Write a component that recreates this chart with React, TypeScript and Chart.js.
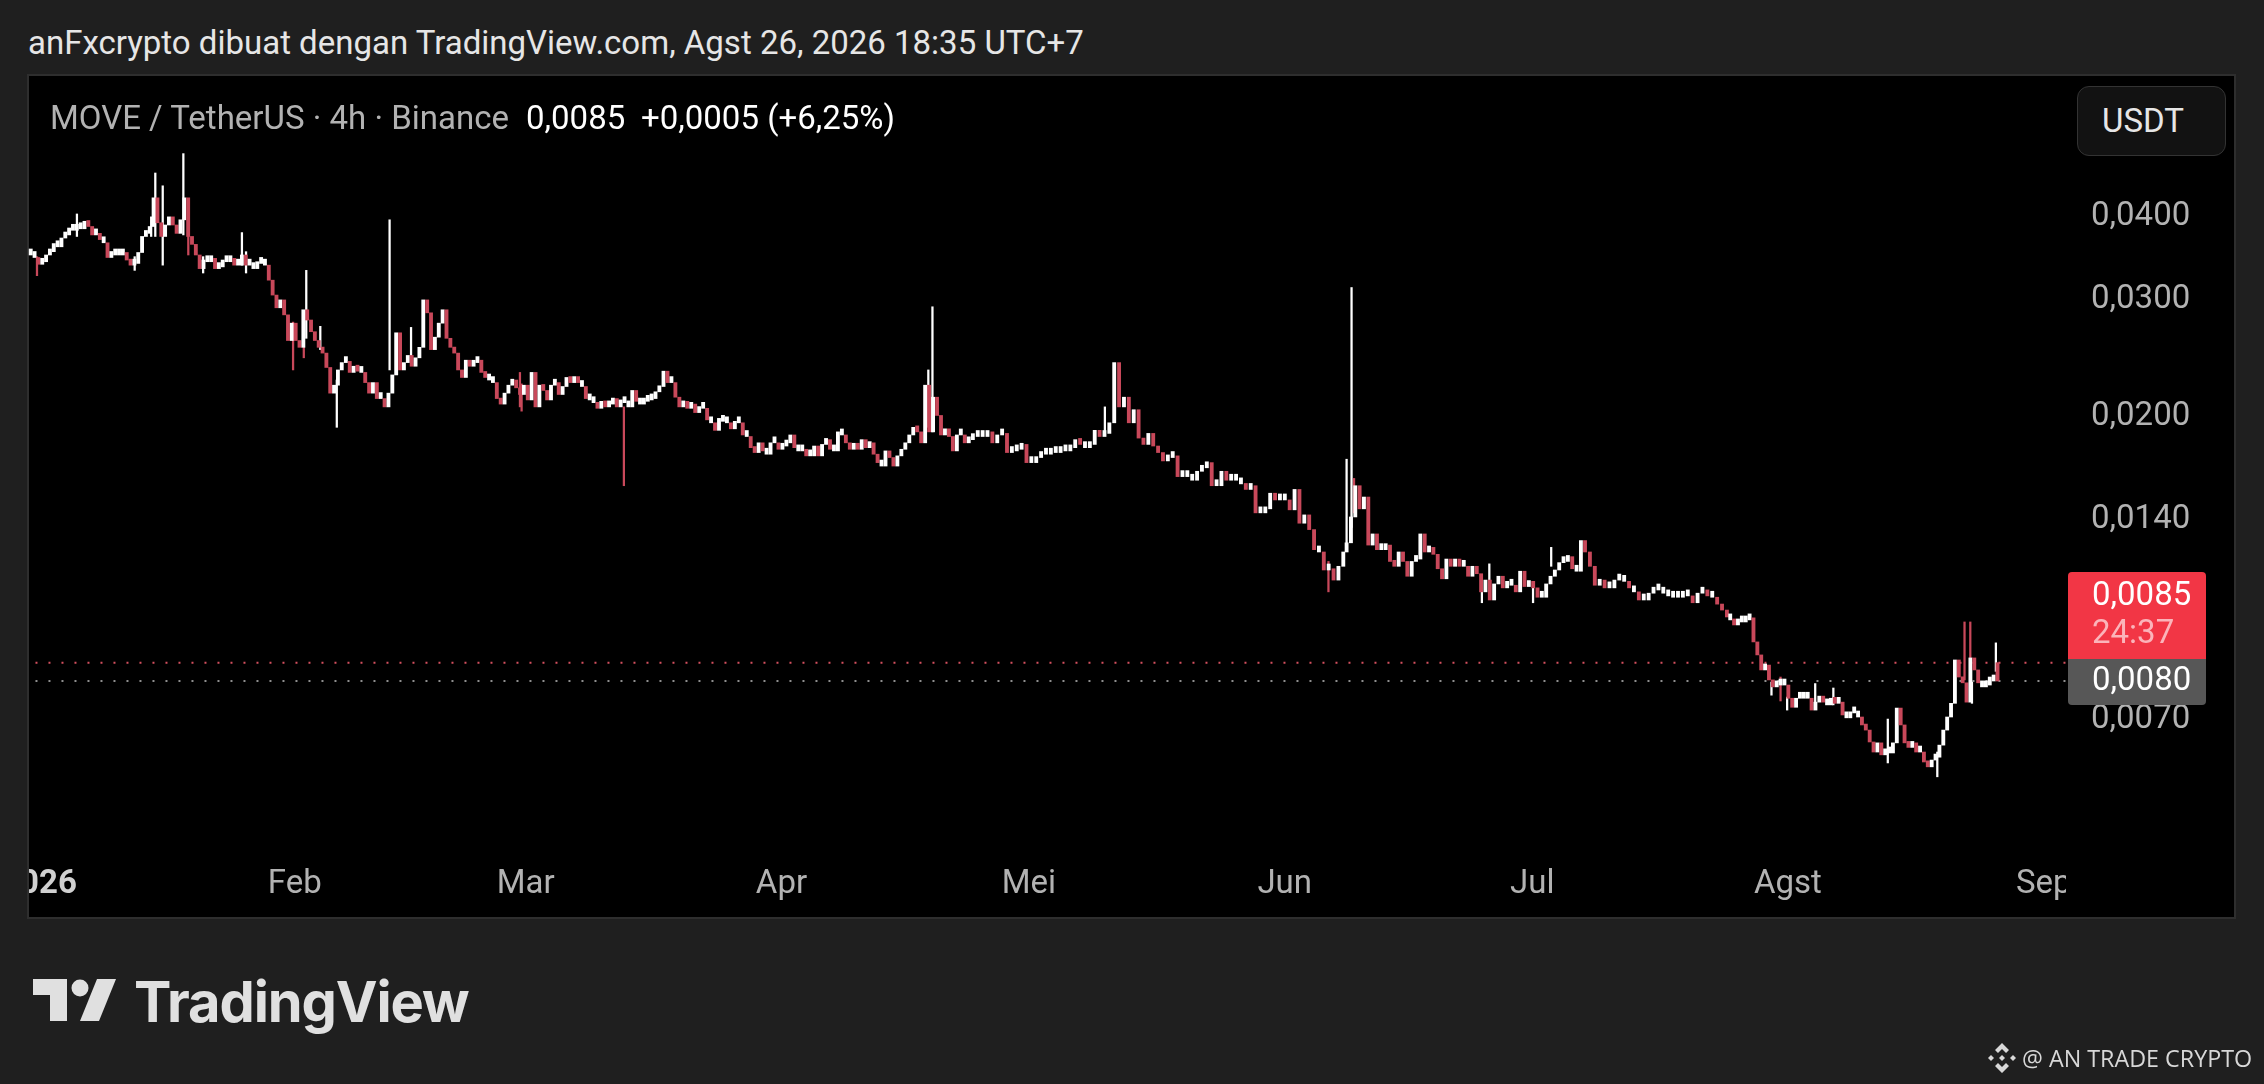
import React, { useEffect, useRef } from "react";
import { Chart, registerables } from "chart.js";

Chart.register(...registerables);

// Prices are written in units of 0.0001 USDT.
const UNIT = 1e-4;
const seg1Span = [-1.0, 36.7];
const seg1 = [347,344,336,339,347,351,361,357,368,372,381,378,384,380,390,383,372,374,366,362,344,347,350,347,350,341,335,337,350,370,374,383,423,388,370,385,396,385,374,392,423,370,360,347,331,341,339,343,331,333,341,339,343,335,335,347,335,335,331,339,337,335,318,302,289,297,282,258,274,258,252,287,277,266,258,252,247,235,215,221,233,239];
const seg2Span = [37.2, 75.2];
const seg2 = [240,231,236,232,231,223,215,223,211,211,205,215,229,265,233,239,245,236,243,252,297,284,250,261,274,287,260,252,247,233,227,241,236,239,241,231,227,225,223,211,207,215,221,225,219,214,221,210,231,205,221,217,210,221,223,214,220,227,223,227,223,220,211,210,208,204,209,205,207,211,205,210,208,205,217,209,207,209,210,211,216,220];
const seg3Span = [75.7, 112.7];
const seg3 = [232,223,223,212,205,209,204,207,201,204,204,196,194,189,197,195,194,190,195,194,186,185,178,175,181,176,174,181,181,177,179,181,186,178,176,177,173,173,179,173,180,183,177,176,188,186,181,177,180,177,183,178,181,174,169,167,176,172,167,173,177,181,186,191,188,181,221,188,212,199,186,190,185,176,186,186,181,183];
const seg4Span = [113.2, 158.1];
const seg4 = [185,187,185,188,181,186,187,175,176,177,180,169,169,172,174,174,176,175,176,176,178,183,180,178,180,189,185,187,194,239,205,212,194,203,184,180,187,179,175,170,172,173,161,163,161,159,164,166,169,156,156,164,159,161,159,157,154,156,142,142,144,152,148.5,150,148.5,143.5,154,137,141,134,125,124,116.5,117,112.5,118,124];
const seg5Span = [158.5, 186.9];
const seg5 = [128,140,156,144,150,127,132,125,125,127,120,118,124,120,114,120,121,132,124,126,123,117,113,121,118,121,118,118,114,118,115,108,112.5,105,111,114,109.5,112,110.5,108,116,110,112,109.5,106,106,111,114,116.5,119.5,120,122,117,116,129];
const seg5bSpan = [187.4, 204.6];
const seg5b = [124,118,110.5,112.5,109.5,109.5,112.5,112.5,112,109.5,108,105,105,107.5,109.5,108.7,107.5,106.5,106,106,107.5,106.5,104,107.5,108.7,106.5,106,103.5,101.4,99];
const seg6Span = [205.0, 237.4];
const seg6 = [98,96.3,97.3,97.3,98,98.7,90.8,86.8,82.4,83.8,79.6,77.7,78.8,78.2,78.2,74.7,72.4,74.7,74.7,75.3,74.7,71.7,73.7,75,73.7,73,74.7,73.4,73.7,70.5,69.8,71,71,70,68.1,66.9,64.2,62,64,61.4,62,61.8,64,72.2,68.1,64,63,64,62,62,59.9,58.9,60.3,60.9,63.5,66.9,70,73.4,85.3,80.4,78.8,73.7,85.9,82.4,78.8,77.7,78.2,80.4,79.3,84.5];

// [day of 2026, low, high]
const whiteWicks = [[4.6,370,400],[11.6,329,345],[13.6,370,396],[14.1,370,461],[15.0,335,441],[17.5,372,493],[19.9,326,345],[24.6,335,375],[25.1,326,351],[32.4,260,329],[34.1,250,271],[36.1,191,225],[42.5,233,392],[45.1,241,270],[107.8,191,233],[108.3,188,290],[129.2,186,205],[158.5,128,171],[159.1,135,310],[174.9,104,110],[175.8,106,119],[181.1,104,110],[183.3,118,126],[210.0,75.5,79],[211.9,71.7,75],[215.3,73,78.6],[217.5,73,77.4],[224.1,59.7,69.5],[230.1,56.9,62],[234.3,73.4,79],[237.2,82,90.5]];
const redWicks = [[-0.24,323,345],[18.1,347,380],[30.8,233,275],[32.1,243,258],[58.3,205,231],[58.5,202,222],[70.9,156,205],[156.3,108,120],[159.4,142,160],[211.1,74,80.4],[233.4,79.6,97.3],[234.1,78.8,97.3]];

const risingRedDays = [237.4];
const priceNow = 84.5;
const priceRef = 79.3;

const monthDays = [0, 31, 59, 90, 120, 151, 181, 212, 243];
const monthLabels = ["2026", "Feb", "Mar", "Apr", "Mei", "Jun", "Jul", "Agst", "Sep"];
const priceTicks = [400, 300, 200, 140, 70];
const priceTickLabels = ["0,0400", "0,0300", "0,0200", "0,0140", "0,0070"];

const headerText = "anFxcrypto dibuat dengan TradingView.com, Agst 26, 2026 18:35 UTC+7";
const legendName = "MOVE / TetherUS · 4h · Binance";
const legendPrice = "0,0085";
const legendChange = "+0,0005 (+6,25%)";
const unitText = "USDT";
const tagNow = "0,0085";
const tagTimer = "24:37";
const tagRef = "0,0080";
const brandText = "TradingView";
const creditText = "@ AN TRADE CRYPTO";

const RED = "#c8485a";
const WHITE = "#ffffff";
const GREY = "#b2b2b2";
const PAGE = "#1f1f1f";

function buildCandles() {
  const parts: [number[], number[]][] = [[seg1, seg1Span], [seg2, seg2Span], [seg3, seg3Span], [seg4, seg4Span], [seg5, seg5Span], [seg5b, seg5bSpan], [seg6, seg6Span]];
  const out: { x: number; y: [number, number] }[] = [];
  const colors: string[] = [];
  let prev = 352;
  for (const [vals, span] of parts) {
    vals.forEach((c, i) => {
      const x = span[0] + ((span[1] - span[0]) * i) / (vals.length - 1);
      out.push({ x, y: [prev * UNIT, c * UNIT] });
      colors.push(c < prev * 0.985 || risingRedDays.includes(x) ? RED : WHITE);
      prev = c;
    });
  }
  return { out, colors };
}

const labelNudge = {
  id: "labelNudge",
  beforeDraw(chart: any) {
    const nudge = (s: any, dy: number) => {
      const items = s.getLabelItems(chart.chartArea);
      if (s.$nudged === items) return;
      items.forEach((it: any) => { it.options.translation = [it.options.translation[0], it.options.translation[1] + dy]; });
      s.$nudged = items;
    };
    nudge(chart.scales.y, 3);
    nudge(chart.scales.x, -3);
  },
};

const abs = (s: React.CSSProperties): React.CSSProperties => ({ position: "absolute", whiteSpace: "nowrap", ...s });
const roboto = "Roboto, sans-serif";
const mid = "translateY(-50%)";

export default function App() {
  const ref = useRef<HTMLCanvasElement>(null);
  useEffect(() => {
    const { out, colors } = buildCandles();
    const wicks = [...whiteWicks.map((w) => [...w, 0]), ...redWicks.map((w) => [...w, 1])];
    const chart = new Chart(ref.current!, {
      type: "bar",
      plugins: [labelNudge],
      data: {
        datasets: [
          {
            data: out as any,
            backgroundColor: colors,
            barThickness: 3.2,
            minBarLength: 6,
            grouped: false,
            order: 1,
          } as any,
          {
            data: wicks.map((w) => ({ x: w[0], y: [w[1] * UNIT, w[2] * UNIT] })) as any,
            backgroundColor: wicks.map((w) => (w[3] ? RED : WHITE)),
            barThickness: 1.6,
            grouped: false,
            order: 2,
          } as any,
          {
            type: "line",
            data: [{ x: -2, y: priceNow * UNIT }, { x: 246, y: priceNow * UNIT }],
            borderColor: "#d4505f",
            borderWidth: 2,
            borderDash: [2, 11],
            pointRadius: 0,
            order: 3,
          } as any,
          {
            type: "line",
            data: [{ x: -2, y: priceRef * UNIT }, { x: 246, y: priceRef * UNIT }],
            borderColor: "#8f8f8f",
            borderWidth: 2,
            borderDash: [2, 11],
            pointRadius: 0,
            order: 3,
          } as any,
        ],
      },
      options: {
        animation: false,
        responsive: false,
        devicePixelRatio: 1,
        layout: { padding: { left: 28, top: 75, right: 28, bottom: 166 } },
        plugins: { legend: { display: false }, tooltip: { enabled: false } },
        scales: {
          x: {
            type: "linear",
            offset: false,
            min: -1.33,
            max: 245.7,
            grid: { display: false },
            border: { display: false },
            afterBuildTicks: (s: any) => { s.ticks = monthDays.map((v) => ({ value: v })); },
            afterFit: (s: any) => { s.height = 58; },
            ticks: {
              autoSkip: false,
              maxRotation: 0,
              padding: 0,
              callback: (v: any) => monthLabels[monthDays.indexOf(Number(v))],
              color: (c: any) => (c.index === 0 ? "#d0d0d0" : GREY),
              font: (c: any) => ({ family: "Roboto", size: 33, weight: c.index === 0 ? "700" : "400" }),
            },
          } as any,
          y: {
            type: "logarithmic",
            position: "right",
            min: 0.004265,
            max: 0.06474,
            grid: { display: false },
            border: { display: false },
            afterBuildTicks: (s: any) => { s.ticks = priceTicks.map((v) => ({ value: v * UNIT })); },
            afterFit: (s: any) => { s.width = 170; },
            ticks: {
              autoSkip: false,
              padding: 17,
              align: "center",
              crossAlign: "near",
              color: GREY,
              font: { family: "Roboto", size: 33 },
              callback: (v: any) => priceTickLabels[priceTicks.findIndex((t) => Math.abs(t * UNIT - Number(v)) < 1e-6)],
            },
          } as any,
        },
      },
    });
    return () => chart.destroy();
  }, []);

  return (
    <div style={{ position: "absolute", left: 0, top: 0, width: 2264, height: 1084, background: PAGE, overflow: "hidden", fontFamily: roboto }}>
      <div style={abs({ left: 28, top: 42, transform: mid, fontSize: 33, color: "#e6e6e6" })}>{headerText}</div>
      <div style={abs({ left: 27, top: 74, width: 2209, height: 845, background: "#000", border: "2px solid #2e2e2e", boxSizing: "border-box" })} />
      <canvas ref={ref} width={2264} height={1084} style={{ position: "absolute", left: 0, top: 0, width: 2264, height: 1084, display: "block" }} />
      <div style={abs({ left: 0, top: 860, width: 27, height: 60, background: PAGE })} />
      <div style={abs({ left: 27, top: 860, width: 2, height: 59, background: "#2e2e2e" })} />
      <div style={abs({ left: 2066, top: 860, width: 40, height: 57, background: "#000" })} />
      <div style={abs({ left: 50, top: 117, transform: mid, fontSize: 33, color: GREY })}>{legendName}</div>
      <div style={abs({ left: 526, top: 117, transform: mid, fontSize: 33, color: WHITE })}>{legendPrice}</div>
      <div style={abs({ left: 641, top: 117, transform: mid, fontSize: 33, color: WHITE })}>{legendChange}</div>
      <div style={abs({ left: 2077, top: 86, width: 149, height: 70, boxSizing: "border-box", background: "#121212", border: "1.5px solid #333", borderRadius: 12 })} />
      <div style={abs({ left: 2102, top: 120, transform: mid, fontSize: 33, color: "#e6e6e6" })}>{unitText}</div>
      <div style={abs({ left: 2068, top: 572, width: 138, height: 87, background: "#f23645", borderRadius: "4px 4px 0 0" })} />
      <div style={abs({ left: 2092, top: 593, transform: mid, fontSize: 33, color: "#ffffff" })}>{tagNow}</div>
      <div style={abs({ left: 2092, top: 631, transform: mid, fontSize: 33, color: "#fbb4ba" })}>{tagTimer}</div>
      <div style={abs({ left: 2068, top: 659, width: 138, height: 46, background: "#575757", borderRadius: "0 0 4px 4px" })} />
      <div style={abs({ left: 2092, top: 678, transform: mid, fontSize: 33, color: "#ffffff" })}>{tagRef}</div>
      <svg style={{ position: "absolute", left: 0, top: 960, width: 140, height: 80 }} viewBox="0 960 140 80">
        <path fill="#e0e0e0" d="M33 979H67V1021H50V995H33Z" />
        <circle fill="#e0e0e0" cx="80" cy="988" r="8.5" />
        <path fill="#e0e0e0" d="M97 979H116L99 1021H80Z" />
      </svg>
      <div style={abs({ left: 134, top: 1002, transform: mid, fontSize: 56, fontFamily: "Inter", fontWeight: 700, letterSpacing: -1.1, color: "#e0e0e0" })}>{brandText}</div>
      <svg style={{ position: "absolute", left: 1986, top: 1042, width: 32, height: 32 }} viewBox="-16 -16 32 32">
        <g fill="#d8d8d8">
          <path d="M0 -15L7 -8L4 -5L0 -9L-4 -5L-7 -8Z" />
          <path d="M0 15L7 8L4 5L0 9L-4 5L-7 8Z" />
          <path d="M0 -3L3 0L0 3L-3 0Z" />
          <path d="M-11 -3L-8 0L-11 3L-14 0Z" />
          <path d="M11 -3L14 0L11 3L8 0Z" />
        </g>
      </svg>
      <div style={abs({ left: 2022, top: 1058, transform: mid, fontSize: 23.3, fontFamily: "'Open Sans'", color: "#d8d8d8" })}>{creditText}</div>
    </div>
  );
}
